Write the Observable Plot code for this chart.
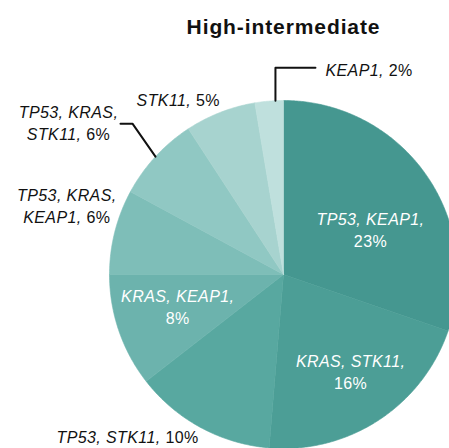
<!DOCTYPE html>
<html><head><meta charset="utf-8">
<script src="https://cdn.jsdelivr.net/npm/d3@7"></script>
<script src="https://cdn.jsdelivr.net/npm/@observablehq/plot@0.6"></script>
<style>
body{margin:0;background:#fff}
#chart svg text{letter-spacing:0.4px}
#chart svg text.ttl{letter-spacing:0.9px}
</style>
</head><body><div id="chart"></div>
<script>
// ---- data ----
const title = "High-intermediate";
const categories = ["TP53, KEAP1","KRAS, STK11","TP53, STK11","KRAS, KEAP1","TP53, KRAS, KEAP1","TP53, KRAS, STK11","STK11","KEAP1"];
const values = [23,16,10,8,6,6,5,2];
const colors = ["#459790","#4c9e96","#58a8a0","#6cb3ad","#7ebeb8","#90c8c3","#a7d3cf","#bfe0dd"];

// ---- layout (pixels) ----
const W = 449, H = 448, CX = 283, CY = 274, R = 174;
const layout = [
  {inside:true, k:0.6, dx:2,   dy:15,  anchor:"middle", br:2},
  {inside:true, k:0.6, dx:10,  dy:9,   anchor:"middle", br:2},
  {k:1, dx:-2,  dy:8,  anchor:"end"},
  {inside:true, k:0.6, dx:-7,  dy:-2,  anchor:"middle", br:2},
  {k:1, dx:-48, dy:-27, anchor:"middle", br:2},
  {k:1, dx:-87, dy:-35, anchor:"middle", br:2, leader:[[-23,-33],[-35,-33]]},
  {k:1, dx:-42, dy:-13, anchor:"middle"},
  {k:1, frac:0.72, dx:50, dy:-32, anchor:"start", leader:[[0,-33],[40,-33]]}
];

// ---- build geometry ----
const arcs = d3.pie().sort(null).value(d => d)(values);
const slicePts = [];
arcs.forEach((a, i) => {
  const cat = categories[i];
  slicePts.push({cat, x:0, y:0});
  const n = Math.max(2, Math.ceil((a.endAngle - a.startAngle) / (Math.PI/360)));
  for (let j = 0; j <= n; j++) {
    const t = a.startAngle + (a.endAngle - a.startAngle) * j / n;
    slicePts.push({cat, x: R*Math.sin(t), y: -R*Math.cos(t)});
  }
  slicePts.push({cat, x:0, y:0});
});

function labelString(cat, v, br) {
  const genes = cat.split(", ");
  if (br == null) return genes.join(", ") + ", " + v + "%";
  const rest = genes.slice(br);
  return genes.slice(0, br).join(", ") + ",\n" + (rest.length ? rest.join(", ") + ", " : "") + v + "%";
}

const labels = [], leaders = [];
arcs.forEach((a, i) => {
  const L = layout[i];
  const ang = a.startAngle + (a.endAngle - a.startAngle) * (L.frac ?? 0.5);
  const ex = L.k*R*Math.sin(ang), ey = -L.k*R*Math.cos(ang);
  labels.push({text: labelString(categories[i], values[i], L.br), x: ex + L.dx, y: ey + L.dy,
               anchor: L.anchor, inside: !!L.inside});
  if (L.leader) {
    const ex1 = R*Math.sin(ang), ey1 = -R*Math.cos(ang);
    leaders.push({id:i, x:ex1, y:ey1});
    L.leader.forEach(([ox, oy]) => leaders.push({id:i, x:ex1+ox, y:ey1+oy}));
  }
});

const textMark = (data, anchor, fill) => Plot.text(data, {
  x:"x", y:"y", text:"text", textAnchor: anchor, lineAnchor:"middle", lineHeight:1.38,
  fontSize:16, fill
});

const plot = Plot.plot({
  width: W, height: H,
  marginTop:0, marginRight:0, marginBottom:0, marginLeft:0,
  x: {domain:[-CX, W-CX], range:[0, W], axis:null},
  y: {domain:[-CY, H-CY], range:[0, H], axis:null},
  color: {type:"ordinal", domain: categories, range: colors},
  style: {fontFamily:"'Liberation Sans', Arial, Helvetica, sans-serif", background:"#fff"},
  marks: [
    Plot.line(slicePts, {x:"x", y:"y", z:"cat", fill:"cat", stroke:"cat", strokeWidth:0.6, curve:"linear"}),
    Plot.line(leaders, {x:"x", y:"y", z:"id", stroke:"#111", strokeWidth:2, curve:"linear"}),
    ...["start","middle","end"].flatMap(an => [
      textMark(labels.filter(d => d.anchor === an && d.inside), an, "#fff"),
      textMark(labels.filter(d => d.anchor === an && !d.inside), an, "#111")
    ]),
    Plot.text([title], {x: () => 0, frameAnchor:"top", dy:27, text: d => d, fontSize:21, fontWeight:"bold",
      fill:"#111", lineAnchor:"middle"})
  ]
});

// gene names italic, percentages upright
const NS = "http://www.w3.org/2000/svg";
d3.select(plot).selectAll("text").each(function() {
  if (!this.textContent.includes("%")) return;
  const tsp = this.querySelectorAll("tspan");
  const nodes = tsp.length ? Array.from(tsp) : [this];
  nodes.forEach(node => {
    const s = node.textContent;
    const m = s.match(/^(.*?)(\d+%)$/);
    const parts = m ? [[m[1], "italic"], [m[2], "normal"]] : [[s, "italic"]];
    node.textContent = "";
    parts.forEach(([t, st]) => {
      if (!t) return;
      const sp = document.createElementNS(NS, "tspan");
      sp.setAttribute("font-style", st);
      sp.textContent = t;
      node.appendChild(sp);
    });
  });
});
d3.select(plot).selectAll("text").filter(function(){ return this.textContent === title; }).classed("ttl", true);
document.getElementById("chart").appendChild(plot);
</script>
</body></html>
